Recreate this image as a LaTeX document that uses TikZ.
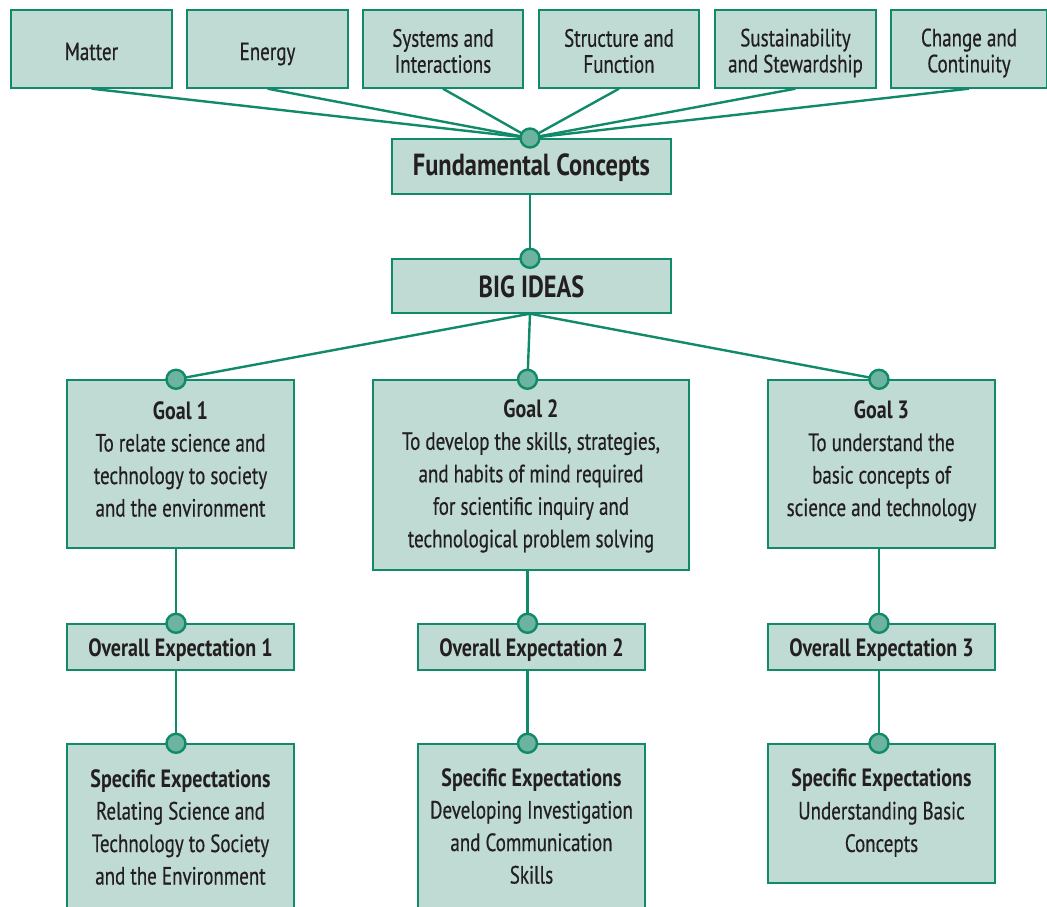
\documentclass[tikz,border=0pt]{standalone}
\usepackage{fontspec}
\setmainfont{PT Sans}[FakeStretch=0.76, UprightFeatures={FakeBold=0.5}, BoldFeatures={FakeStretch=0.8}]
\usetikzlibrary{calc}
\definecolor{boxfill}{HTML}{BFDBD3}
\definecolor{edge}{HTML}{108A69}
\definecolor{dot}{HTML}{6DB4A0}
\definecolor{ink}{HTML}{231F20}
\begin{document}
\begin{tikzpicture}[x=1pt,y=-1pt,
  box/.style={draw=edge, line width=1.4pt, fill=boxfill, inner sep=0pt},
  txt/.style={text=ink, align=center, inner sep=0pt, font=\fontsize{25}{32.5}\selectfont},
  toptxt/.style={txt, font=\fontsize{25}{26}\selectfont},
  bigtxt/.style={txt, font=\bfseries\fontsize{30.5}{32}\selectfont},
  boldtxt/.style={txt, font=\bfseries\fontsize{25}{32}\selectfont},
  link/.style={draw=edge, line width=2.4pt},
  dotc/.style={circle, draw=edge, fill=dot, line width=2.4pt, minimum size=19pt, inner sep=0pt}]
\useasboundingbox (0,0) rectangle (1047,907);
% columns
\coordinate (col1) at (176,0);
\coordinate (col2) at (527.5,0);
\coordinate (col3) at (879,0);
% top boxes
\node[box, minimum width=161pt, minimum height=78pt] (m1) at (91.5,49) {};
\node[box, minimum width=161pt, minimum height=78pt] (m2) at (267.5,49) {};
\node[box, minimum width=160pt, minimum height=78pt] (m3) at (443,49) {};
\node[box, minimum width=160pt, minimum height=78pt] (m4) at (619,49) {};
\node[box, minimum width=161pt, minimum height=78pt] (m5) at (795.5,49) {};
\node[box, minimum width=156pt, minimum height=78pt] (m6) at (969,49) {};
\node[toptxt] (m1t) at (91.5,51.5) {Matter};
\node[toptxt] (m2t) at (267.5,54) {Energy};
\node[toptxt] (m3t) at (443,51) {Systems and\\Interactions};
\node[toptxt] (m4t) at (619,51) {Structure and\\Function};
\node[toptxt] (m5t) at (795.5,53) {Sustainability\\and Stewardship};
\node[toptxt] (m6t) at (969,53) {Change and\\Continuity};
% center
\node[box, minimum width=279pt, minimum height=55pt] (fc) at (531.5,166.5) {};
\node[bigtxt] (fct) at (531.5,167.5) {Fundamental Concepts};
\node[box, minimum width=279pt, minimum height=54pt] (bi) at (531.5,286) {};
\node[bigtxt] (bit) at (531.5,286.7) {BIG IDEAS};
\coordinate (hub) at (530,138);
% goals
\node[box, minimum width=227pt, minimum height=168pt] (g1) at (180.5,464) {};
\node[txt] (g1t) at (180.5,459)
  {\textbf{Goal 1}\\To relate science and\\technology to society\\and the environment};
\node[box, minimum width=316pt, minimum height=190pt] (g2) at (531,475) {};
\node[txt] (g2t) at (531,476)
  {\textbf{Goal 2}\\To develop the skills, strategies,\\and habits of mind required\\for scientific inquiry and\\technological problem solving};
\node[box, minimum width=227pt, minimum height=168pt] (g3) at (881.5,464) {};
\node[txt] (g3t) at (881.5,461)
  {\textbf{Goal 3}\\To understand the\\basic concepts of\\science and technology};
% overall
\node[box, minimum width=227pt, minimum height=46pt] (o1) at (180.5,647) {};
\node[box, minimum width=227pt, minimum height=46pt] (o2) at (531.5,647) {};
\node[box, minimum width=227pt, minimum height=46pt] (o3) at (881.5,647) {};
\node[boldtxt] (o1t) at (180.5,650.5) {Overall Expectation 1};
\node[boldtxt] (o2t) at (531.5,650.5) {Overall Expectation 2};
\node[boldtxt] (o3t) at (881.5,650.5) {Overall Expectation 3};
% specific
\node[box, minimum width=227pt, minimum height=166pt] (s1) at (180.5,827) {};
\node[txt] (s1t) at (180.5,827)
  {\textbf{Specific Expectations}\\Relating Science and\\Technology to Society\\and the Environment};
\node[box, minimum width=227pt, minimum height=166pt] (s2) at (531.5,827) {};
\node[txt] (s2t) at (531.5,826)
  {\textbf{Specific Expectations}\\Developing Investigation\\and Communication\\Skills};
\node[box, minimum width=227pt, minimum height=139pt] (s3) at (881.5,813.5) {};
\node[txt] (s3t) at (881.5,813)
  {\textbf{Specific Expectations}\\Understanding Basic\\Concepts};
% connectors
\foreach \m in {m1,m2,m3,m4,m5,m6} \draw[link] (\m.south) -- (hub);
\draw[link] (fc.south -| hub) -- (bi.north -| hub);
\draw[link] (bi.south -| hub) -- (g1.north -| col1);
\draw[link] (bi.south -| hub) -- (g2.north -| col2);
\draw[link] (bi.south -| hub) -- (g3.north -| col3);
\draw[link] (g1.south -| col1) -- (o1.north -| col1);
\draw[link] (g2.south -| col2) -- (o2.north -| col2);
\draw[link] (g3.south -| col3) -- (o3.north -| col3);
\draw[link] (o1.south -| col1) -- (s1.north -| col1);
\draw[link] (o2.south -| col2) -- (s2.north -| col2);
\draw[link] (o3.south -| col3) -- (s3.north -| col3);
% dots
\node[dotc] (d0) at (hub) {};
\node[dotc] (d1) at (bi.north -| hub) {};
\node[dotc] (dg1) at (g1.north -| col1) {};
\node[dotc] (dg2) at (g2.north -| col2) {};
\node[dotc] (dg3) at (g3.north -| col3) {};
\node[dotc] (do1) at (o1.north -| col1) {};
\node[dotc] (do2) at (o2.north -| col2) {};
\node[dotc] (do3) at (o3.north -| col3) {};
\node[dotc] (ds1) at (s1.north -| col1) {};
\node[dotc] (ds2) at (s2.north -| col2) {};
\node[dotc] (ds3) at (s3.north -| col3) {};
\end{tikzpicture}
\end{document}
